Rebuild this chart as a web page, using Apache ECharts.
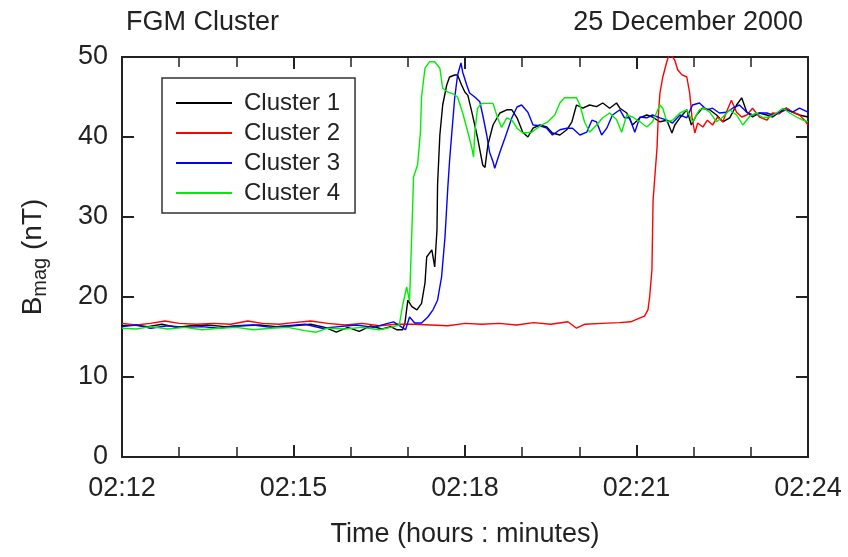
<!DOCTYPE html>
<html>
<head>
<meta charset="utf-8">
<script src="https://cdn.jsdelivr.net/npm/echarts@6/dist/echarts.min.js"></script>
<style>
  html, body { margin: 0; padding: 0; background: #fff; }
  #main { width: 848px; height: 557px; }
</style>
</head>
<body>
<div id="main"></div>
<script>
// time is minutes after 02:00, value is |B| in nT
const cluster1 = [
  [12.00, 16.4], [12.20, 16.5], [12.45, 16.3], [12.70, 16.6], [12.95, 16.2], [13.20, 16.4],
  [13.50, 16.5], [13.80, 16.3], [14.10, 16.4], [14.40, 16.5], [14.70, 16.3], [15.00, 16.4],
  [15.30, 16.6], [15.55, 16.2], [15.75, 15.6], [15.95, 16.2], [16.15, 15.7], [16.35, 16.4],
  [16.55, 16.0], [16.70, 16.3], [16.81, 15.9], [16.91, 15.9], [16.95, 16.8], [17.00, 19.6],
  [17.07, 18.8], [17.16, 18.4], [17.24, 19.2], [17.30, 21.75], [17.33, 25.0], [17.42, 25.9],
  [17.47, 23.75], [17.51, 28.4], [17.52, 34.0], [17.56, 40.25], [17.61, 44.0], [17.68, 46.5],
  [17.73, 47.5], [17.82, 47.75], [17.87, 47.75], [17.94, 46.5], [18.00, 45.6], [18.05, 45.2],
  [18.12, 43.1], [18.17, 41.5], [18.22, 39.9], [18.31, 36.5], [18.35, 36.2], [18.40, 39.0],
  [18.49, 41.5], [18.61, 43.0], [18.73, 43.4], [18.82, 43.4], [18.91, 42.4], [19.01, 40.6],
  [19.10, 40.0], [19.19, 41.1], [19.31, 41.5], [19.43, 41.25], [19.53, 40.5], [19.66, 40.25],
  [19.78, 40.9], [19.87, 41.9], [19.95, 44.0], [20.06, 43.6], [20.18, 44.0], [20.30, 43.8],
  [20.41, 44.25], [20.53, 43.6], [20.65, 44.25], [20.71, 43.6], [20.83, 43.0], [20.93, 41.5],
  [21.06, 42.4], [21.18, 42.75], [21.28, 42.5], [21.41, 41.9], [21.53, 42.1], [21.62, 40.5],
  [21.67, 41.5], [21.76, 42.4], [21.88, 43.4], [21.96, 41.5], [22.05, 42.75], [22.15, 43.6],
  [22.28, 43.4], [22.40, 42.75], [22.51, 41.9], [22.63, 42.4], [22.75, 44.0], [22.84, 44.9],
  [22.93, 43.1], [23.03, 42.5], [23.15, 43.0], [23.28, 42.75], [23.38, 42.5], [23.50, 43.1],
  [23.62, 43.6], [23.73, 43.1], [23.85, 42.75], [24.00, 42.5]
];

const cluster2 = [
  [12.00, 16.7], [12.25, 16.5], [12.50, 16.7], [12.75, 17.0], [13.00, 16.7], [13.30, 16.6],
  [13.60, 16.7], [13.90, 16.6], [14.20, 17.0], [14.45, 16.7], [14.75, 16.6], [15.00, 16.8],
  [15.30, 17.0], [15.60, 16.7], [15.90, 16.5], [16.20, 16.7], [16.50, 16.4], [16.80, 16.6],
  [17.10, 16.6], [17.40, 16.5], [17.70, 16.4], [18.00, 16.7], [18.30, 16.6], [18.60, 16.7],
  [18.90, 16.5], [19.20, 16.8], [19.50, 16.6], [19.80, 16.9], [19.95, 16.1], [20.10, 16.6],
  [20.40, 16.7], [20.70, 16.8], [20.90, 16.9], [21.00, 17.2], [21.14, 17.6], [21.20, 18.4],
  [21.23, 20.0], [21.27, 23.4], [21.29, 32.1], [21.36, 38.75], [21.38, 42.5], [21.41, 45.5],
  [21.46, 47.5], [21.53, 49.4], [21.58, 50.5], [21.67, 49.6], [21.72, 48.4], [21.79, 47.8],
  [21.88, 47.5], [21.93, 45.5], [21.97, 42.5], [22.02, 40.5], [22.07, 41.75], [22.16, 41.25],
  [22.24, 42.1], [22.33, 41.5], [22.42, 42.5], [22.51, 41.9], [22.59, 43.4], [22.66, 44.6],
  [22.75, 43.1], [22.84, 42.5], [22.93, 42.75], [23.03, 43.6], [23.15, 42.5], [23.28, 42.1],
  [23.38, 43.0], [23.50, 42.9], [23.62, 43.6], [23.73, 43.1], [23.85, 42.75], [23.94, 42.1],
  [24.00, 41.5]
];

const cluster3 = [
  [12.00, 16.3], [12.25, 16.5], [12.50, 16.1], [12.80, 16.4], [13.10, 16.2], [13.40, 16.3],
  [13.70, 16.1], [14.00, 16.4], [14.30, 16.5], [14.60, 16.2], [14.90, 16.4], [15.20, 16.6],
  [15.50, 16.1], [15.80, 16.3], [16.10, 16.5], [16.40, 16.2], [16.60, 16.6], [16.75, 16.9],
  [16.88, 16.3], [16.96, 15.9], [17.03, 17.5], [17.12, 16.75], [17.24, 16.75], [17.35, 17.5],
  [17.44, 18.4], [17.52, 19.6], [17.59, 22.5], [17.65, 27.5], [17.70, 33.75], [17.73, 37.0],
  [17.77, 40.6], [17.82, 44.9], [17.87, 47.75], [17.93, 49.25], [17.96, 48.1], [18.03, 46.5],
  [18.08, 45.5], [18.17, 45.0], [18.26, 44.4], [18.31, 42.75], [18.38, 40.25], [18.43, 38.1],
  [18.49, 36.9], [18.52, 36.1], [18.61, 38.1], [18.70, 39.9], [18.82, 42.4], [18.91, 43.75],
  [18.99, 44.0], [19.10, 43.1], [19.19, 41.5], [19.31, 41.4], [19.43, 41.1], [19.53, 40.25],
  [19.66, 40.9], [19.78, 41.1], [19.88, 41.1], [20.01, 40.25], [20.13, 40.6], [20.22, 42.1],
  [20.30, 41.9], [20.39, 40.25], [20.48, 41.1], [20.58, 42.75], [20.71, 43.4], [20.79, 42.4],
  [20.88, 42.4], [20.97, 40.6], [21.06, 42.5], [21.18, 42.4], [21.28, 42.75], [21.41, 42.4],
  [21.53, 42.1], [21.63, 41.75], [21.76, 42.75], [21.88, 42.4], [21.98, 44.0], [22.10, 44.25],
  [22.23, 43.4], [22.33, 43.6], [22.45, 43.0], [22.58, 43.1], [22.68, 43.6], [22.80, 44.0],
  [22.93, 43.1], [23.03, 42.75], [23.15, 43.0], [23.28, 43.0], [23.38, 42.75], [23.50, 43.1],
  [23.62, 43.4], [23.73, 43.1], [23.85, 43.6], [24.00, 43.1]
];

const cluster4 = [
  [12.00, 16.1], [12.25, 16.0], [12.50, 16.3], [12.80, 16.0], [13.10, 16.2], [13.40, 15.9],
  [13.70, 16.1], [14.00, 16.2], [14.30, 15.9], [14.60, 16.1], [14.90, 16.2], [15.20, 15.8],
  [15.40, 15.6], [15.60, 16.1], [15.90, 16.0], [16.20, 16.2], [16.50, 15.9], [16.70, 16.2],
  [16.85, 16.5], [16.91, 19.0], [16.98, 21.25], [17.03, 19.5], [17.07, 28.1], [17.10, 35.0],
  [17.17, 36.5], [17.22, 40.5], [17.24, 45.0], [17.30, 48.6], [17.38, 49.4], [17.47, 49.4],
  [17.56, 48.6], [17.61, 46.1], [17.70, 45.6], [17.79, 45.4], [17.87, 45.0], [17.96, 43.0],
  [18.05, 40.6], [18.12, 38.6], [18.15, 37.5], [18.17, 40.5], [18.22, 43.6], [18.29, 44.2],
  [18.38, 44.2], [18.49, 44.2], [18.57, 42.4], [18.64, 41.2], [18.73, 42.4], [18.82, 42.1],
  [18.91, 41.1], [19.01, 40.5], [19.17, 40.6], [19.26, 41.1], [19.34, 41.5], [19.45, 41.9],
  [19.57, 42.75], [19.66, 44.25], [19.74, 44.9], [19.95, 44.9], [20.01, 44.0], [20.09, 41.9],
  [20.18, 40.6], [20.30, 41.5], [20.41, 42.4], [20.53, 43.0], [20.65, 42.2], [20.74, 40.6],
  [20.83, 42.75], [20.93, 42.5], [21.06, 41.9], [21.18, 41.25], [21.28, 41.9], [21.41, 44.0],
  [21.46, 43.6], [21.53, 41.9], [21.63, 42.1], [21.76, 43.0], [21.88, 43.4], [21.98, 41.9],
  [22.10, 43.4], [22.19, 43.6], [22.28, 43.1], [22.40, 41.9], [22.51, 42.5], [22.63, 43.4],
  [22.75, 42.75], [22.86, 41.5], [22.98, 42.6], [23.10, 43.0], [23.21, 42.4], [23.33, 42.5],
  [23.45, 43.0], [23.56, 43.6], [23.68, 43.0], [23.80, 42.5], [23.91, 42.1], [24.00, 41.9]
];

const seriesNames = ['Cluster 1', 'Cluster 2', 'Cluster 3', 'Cluster 4'];
const seriesColors = ['#000000', '#ff0000', '#0000ff', '#00ee00'];
const seriesData = [cluster1, cluster2, cluster3, cluster4];

const font = 'Liberation Sans, Arial, sans-serif';
const textColor = '#222';
const axisColor = '#222';

function timeLabel(v) {
  const m = Math.round(v);
  return '02:' + (m < 10 ? '0' + m : m);
}

const xCommon = {
  type: 'value',
  min: 12,
  max: 24,
  interval: 3,
  axisLine: {show: true, onZero: false, lineStyle: {color: axisColor, width: 2}},
  axisTick: {show: true, inside: true, length: 12, lineStyle: {color: axisColor, width: 2}},
  minorTick: {show: true, splitNumber: 3, length: 10, lineStyle: {color: axisColor, width: 1.5}},
  splitLine: {show: false},
};

const yCommon = {
  type: 'value',
  min: 0,
  max: 50,
  interval: 10,
  axisLine: {show: true, onZero: false, lineStyle: {color: axisColor, width: 2}},
  axisTick: {show: true, inside: true, length: 12, lineStyle: {color: axisColor, width: 2}},
  splitLine: {show: false},
};

const chart = echarts.init(document.getElementById('main'));
const option = {
  animation: false,
  backgroundColor: '#fff',
  title: [
    {text: 'FGM Cluster', left: 121, top: 4,
      textStyle: {fontFamily: font, fontSize: 27, fontWeight: 'normal', color: textColor}},
    {text: '25 December 2000', right: 40, top: 4,
      textStyle: {fontFamily: font, fontSize: 27, fontWeight: 'normal', color: textColor}},
  ],
  grid: {left: 122, right: 40, top: 57, bottom: 100, containLabel: false},
  legend: {
    data: seriesNames,
    orient: 'vertical',
    left: 162,
    top: 78,
    padding: [13, 15, 8, 14],
    itemGap: 6,
    itemWidth: 56,
    itemHeight: 2,
    icon: 'rect',
    borderColor: '#333',
    borderWidth: 1.5,
    textStyle: {fontFamily: font, fontSize: 24, color: textColor, padding: [0, 0, 0, 7]},
  },
  xAxis: [
    Object.assign({}, xCommon, {
      position: 'bottom',
      name: 'Time (hours : minutes)',
      nameLocation: 'middle',
      nameGap: 64,
      nameTextStyle: {fontFamily: font, fontSize: 27, color: textColor},
      axisLabel: {fontFamily: font, fontSize: 27, color: textColor, margin: 18, formatter: timeLabel},
    }),
    Object.assign({}, xCommon, {position: 'top', axisLabel: {show: false}}),
  ],
  yAxis: [
    Object.assign({}, yCommon, {
      position: 'left',
      name: '{b|B}{s|mag}{n| (nT)}',
      nameLocation: 'middle',
      nameGap: 72,
      nameRotate: 90,
      nameTextStyle: {
        rich: {
          b: {fontFamily: font, fontSize: 28, color: textColor},
          s: {fontFamily: font, fontSize: 20, color: textColor, padding: [14, 0, 0, 0]},
          n: {fontFamily: font, fontSize: 28, color: textColor},
        },
      },
      axisLabel: {fontFamily: font, fontSize: 27, color: textColor, margin: 14},
    }),
    Object.assign({}, yCommon, {position: 'right', axisLabel: {show: false}}),
  ],
  series: seriesNames.map(function (name, i) {
    return {
      name: name,
      type: 'line',
      data: seriesData[i],
      showSymbol: false,
      symbol: 'none',
      color: seriesColors[i],
      lineStyle: {width: 1.4, color: seriesColors[i]},
      clip: true,
      z: 2 + i,
    };
  }),
};
chart.setOption(option);
</script>
</body>
</html>
